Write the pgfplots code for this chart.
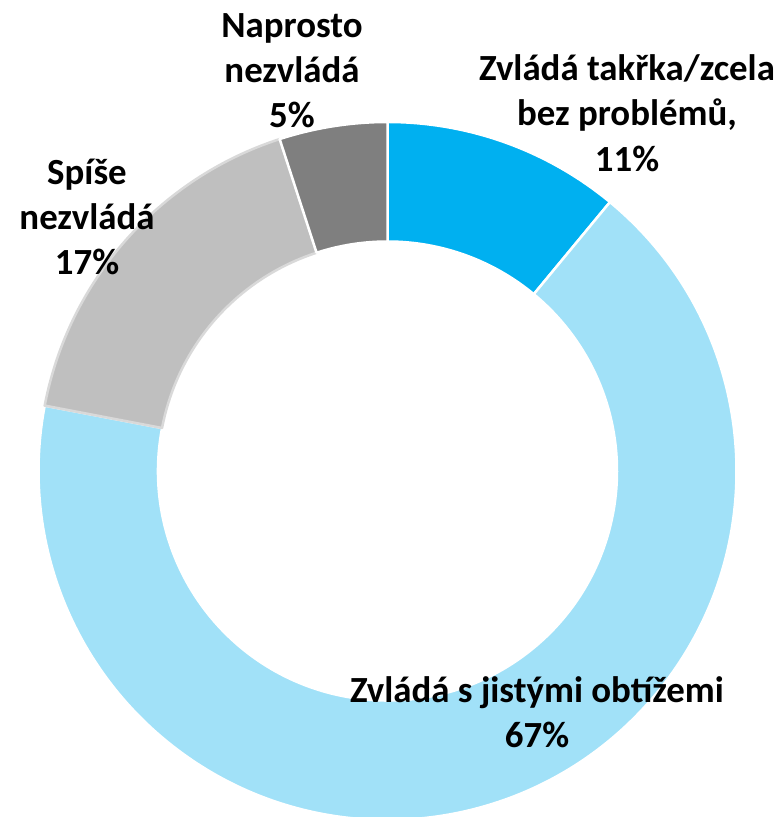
\documentclass[border=0pt]{standalone}
\usepackage{pgfplots}
\usepackage{pgfplotstable}
\pgfplotsset{compat=1.18}
\usepackage{fontspec}
\setmainfont{Carlito}
\definecolor{cA}{HTML}{00B0F0}
\definecolor{cB}{HTML}{A1E1F8}
\definecolor{cC}{HTML}{BFBFBF}
\definecolor{cD}{HTML}{7F7F7F}
\definecolor{cCb}{HTML}{D9D9D9}
\pgfplotstableread{
label value
takrka 11
obtize 67
spise 17
naprosto 5
}\donutdata
\newcommand\donutwedge[4]{%
  \filldraw[#3, draw=#4, line width=2.5bp, line join=round]
    ([shift={(#1:\ro)}]axis cs:387.5,346) arc[start angle=#1, end angle=#2, radius=\ro]
    -- ([shift={(#2:\ri)}]axis cs:387.5,346) arc[start angle=#2, end angle=#1, radius=\ri]
    -- cycle;}
\begin{document}
\begin{tikzpicture}
\pgfplotstablegetelem{0}{value}\of\donutdata \edef\vA{\pgfplotsretval}
\pgfplotstablegetelem{1}{value}\of\donutdata \edef\vB{\pgfplotsretval}
\pgfplotstablegetelem{2}{value}\of\donutdata \edef\vC{\pgfplotsretval}
\pgfplotstablegetelem{3}{value}\of\donutdata \edef\vD{\pgfplotsretval}
\pgfmathsetmacro\aO{90}
\pgfmathsetmacro\aA{\aO-3.6*\vA}
\pgfmathsetmacro\aB{\aA-3.6*\vB}
\pgfmathsetmacro\aC{\aB-3.6*\vC}
\pgfmathsetmacro\aD{\aC-3.6*\vD}
\def\ro{349bp}
\def\ri{229.5bp}
\begin{axis}[
  name=ax,
  width=782bp, height=817bp, scale only axis,
  xmin=0, xmax=782, ymin=0, ymax=817,
  hide axis, clip=false,
  font=\bfseries\fontsize{37}{45}\selectfont,
]
\donutwedge{\aO}{\aA}{cA}{white}
\donutwedge{\aA}{\aB}{cB}{white}
\donutwedge{\aB}{\aC}{cC}{cCb}
\donutwedge{\aC}{\aD}{cD}{white}
% labels
\node[anchor=base] at (axis cs:292,779) {Naprosto};
\node[anchor=base] at (axis cs:292,734) {nezvládá};
\node[anchor=base] at (axis cs:292,689) {5\%};
\node[anchor=base] at (axis cs:627,736) {Zvládá takřka/zcela};
\node[anchor=base] at (axis cs:627,691) {bez problémů,};
\node[anchor=base] at (axis cs:627,645) {11\%};
\node[anchor=base] at (axis cs:87,632) {Spíše};
\node[anchor=base] at (axis cs:87,587) {nezvládá};
\node[anchor=base] at (axis cs:87,542) {17\%};
\node[anchor=base] at (axis cs:537,114) {Zvládá s jistými obtížemi};
\node[anchor=base] at (axis cs:537,69) {67\%};
\end{axis}
\pgfresetboundingbox
\path[use as bounding box] (ax.south west) rectangle (ax.north east);
\end{tikzpicture}
\end{document}
